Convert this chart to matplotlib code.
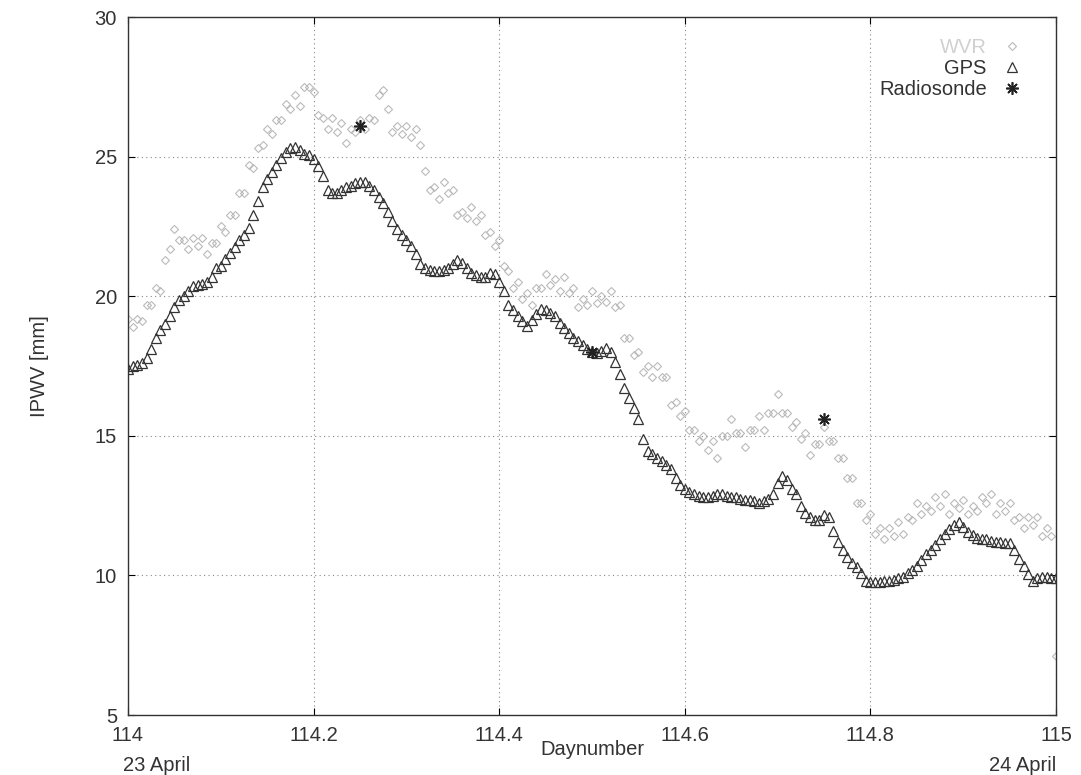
import numpy as np
import matplotlib
matplotlib.use('Agg')
import matplotlib.pyplot as plt

plt.rcParams['font.family'] = ['Liberation Sans', 'DejaVu Sans']

# tiempos de muestreo (dia del año), cada 0.005 dias
t_start = 114.0
t_step = 0.005
n_samples = 201

# WVR (radiometro), valores
wvr = [19.2, 18.9, 19.2, 19.1, 19.7, 19.7, 20.3, 20.2, 21.3, 21.7,
       22.4, 22.0, 22.0, 21.7, 22.1, 21.8, 22.1, 21.5, 21.9, 21.9,
       22.5, 22.3, 22.9, 22.9, 23.7, 23.7, 24.7, 24.6, 25.3, 25.4,
       26.0, 25.8, 26.3, 26.3, 26.9, 26.7, 27.2, 26.8, 27.5, 27.5,
       27.3, 26.5, 26.4, 26.0, 26.4, 25.9, 26.2, 25.5, 26.0, 25.9,
       26.3, 26.0, 26.4, 26.3, 27.2, 27.4, 26.7, 25.9, 26.1, 25.8,
       26.1, 25.7, 26.0, 25.4, 24.5, 23.8, 23.9, 23.5, 24.1, 23.7,
       23.8, 22.9, 23.0, 22.8, 23.2, 22.7, 22.9, 22.2, 22.3, 21.8,
       22.0, 21.1, 20.9, 20.3, 20.5, 19.9, 20.1, 19.7, 20.3, 20.3,
       20.8, 20.4, 20.6, 20.2, 20.7, 20.1, 20.3, 19.6, 19.9, 19.7,
       20.2, 19.75, 20.0, 19.8, 20.2, 19.6, 19.7, 18.5, 18.5, 17.9,
       18.0, 17.3, 17.5, 17.1, 17.5, 17.1, 17.1, 16.1, 16.2, 15.7,
       15.9, 15.2, 15.2, 14.8, 15.0, 14.5, 14.8, 14.2, 15.0, 15.0,
       15.6, 15.1, 15.1, 14.6, 15.2, 15.2, 15.7, 15.2, 15.8, 15.8,
       16.5, 15.8, 15.8, 15.3, 15.5, 14.9, 15.1, 14.3, 14.7, 14.7,
       15.3, 14.8, 14.8, 14.2, 14.2, 13.5, 13.5, 12.6, 12.6, 12.0,
       12.2, 11.5, 11.7, 11.3, 11.7, 11.4, 11.9, 11.5, 12.1, 12.0,
       12.6, 12.2, 12.5, 12.3, 12.8, 12.5, 12.9, 12.2, 12.6, 12.4,
       12.7, 12.2, 12.5, 12.3, 12.8, 12.6, 12.9, 12.2, 12.6, 12.3,
       12.6, 12.0, 12.1, 11.7, 12.1, 11.8, 12.1, 11.4, 11.7, 11.4,
       7.1]

# GPS
gps = [17.4, 17.5, 17.55, 17.6, 17.8, 18.1, 18.5, 18.8, 19.0, 19.3,
       19.6, 19.85, 20.0, 20.2, 20.35, 20.4, 20.45, 20.5, 20.7, 21.0,
       21.1, 21.35, 21.55, 21.75, 22.0, 22.2, 22.45, 22.9, 23.4, 23.9,
       24.2, 24.45, 24.7, 24.95, 25.15, 25.3, 25.35, 25.25, 25.1, 25.05,
       24.9, 24.65, 24.3, 23.8, 23.7, 23.7, 23.8, 23.9, 23.95, 24.05,
       24.1, 24.1, 23.95, 23.8, 23.55, 23.35, 23.0, 22.7, 22.4, 22.2,
       22.0, 21.8, 21.5, 21.15, 21.0, 20.95, 20.9, 20.9, 20.95, 21.0,
       21.15, 21.3, 21.2, 21.0, 20.85, 20.75, 20.7, 20.7, 20.85, 20.8,
       20.5, 20.2, 19.7, 19.5, 19.3, 19.1, 18.95, 19.15, 19.35, 19.55,
       19.5, 19.4, 19.3, 19.05, 18.85, 18.7, 18.5, 18.4, 18.25, 18.1,
       18.0, 17.95, 18.05, 18.15, 18.0, 17.65, 17.2, 16.7, 16.35, 16.0,
       15.6, 14.9, 14.45, 14.35, 14.2, 14.1, 13.95, 13.8, 13.5, 13.25,
       13.1, 13.0, 12.9, 12.85, 12.8, 12.8, 12.85, 12.9, 12.9, 12.85,
       12.8, 12.8, 12.75, 12.7, 12.7, 12.65, 12.6, 12.65, 12.75, 12.9,
       13.3, 13.55, 13.4, 13.1, 12.9, 12.5, 12.25, 12.1, 12.0, 12.0,
       12.15, 12.1, 11.6, 11.2, 10.9, 10.65, 10.45, 10.3, 10.1, 9.8,
       9.75, 9.75, 9.75, 9.8, 9.8, 9.85, 9.9, 9.95, 10.1, 10.2,
       10.35, 10.55, 10.75, 10.9, 11.1, 11.3, 11.5, 11.65, 11.8, 11.9,
       11.75, 11.55, 11.45, 11.35, 11.3, 11.3, 11.25, 11.2, 11.2, 11.15,
       11.15, 10.9, 10.6, 10.35, 10.05, 9.8, 9.9, 9.95, 9.95, 9.9,
       9.9]

# Radiosondeo
sonde_t = [114.25, 114.50, 114.75]
sonde = [26.1, 18.0, 15.6]

t = t_start + np.arange(n_samples) * t_step

fig = plt.figure(figsize=(10.81, 7.75), dpi=100)
ax = fig.add_axes([0.1184, 0.0774, 0.8585, 0.9006])

ax.plot(t, wvr, linestyle='none', marker='D', markersize=4.5, markerfacecolor='none',
        markeredgecolor='#bababa', markeredgewidth=0.8, label='WVR')
ax.plot(t, gps, linestyle='none', marker='^', markersize=7, markerfacecolor='none',
        markeredgecolor='#333333', markeredgewidth=0.9, label='GPS')
ax.plot(sonde_t, sonde, linestyle='none', marker=(8, 2, 0), markersize=9,
        color='#222222', markeredgewidth=1.2, label='Radiosonde')

ax.set_xlim(114, 115)
ax.set_ylim(5, 30)
ax.set_xticks([114, 114.2, 114.4, 114.6, 114.8, 115])
ax.set_xticklabels(['114', '114.2', '114.4', '114.6', '114.8', '115'])
ax.set_yticks([5, 10, 15, 20, 25, 30])
ax.tick_params(direction='in', top=True, right=True, length=5, width=0.8,
               labelsize=14.5, labelcolor='#333333', pad=8)
ax.grid(True, color='#888888', linestyle=(0, (1, 3)), linewidth=0.8)
for s in ax.spines.values():
    s.set_linewidth(1.0)
    s.set_color('#333333')

ax.set_xlabel('Daynumber', fontsize=14.5, color='#333333')
ax.xaxis.set_label_coords(0.5, -0.036)
ax.set_ylabel('IPWV [mm]', fontsize=14.5, color='#333333')
ax.yaxis.set_label_coords(-0.085, 0.5)

ax.text(-0.005, -0.072, '23 April', transform=ax.transAxes, ha='left', va='center',
        fontsize=14.5, color='#333333')
ax.text(1.0, -0.072, '24 April', transform=ax.transAxes, ha='right', va='center',
        fontsize=14.5, color='#333333')

leg = ax.legend(loc='upper right', bbox_to_anchor=(0.972, 0.981), markerfirst=False,
                frameon=False, handlelength=1.0, handletextpad=0.75, labelspacing=0.1,
                fontsize=14.5, borderaxespad=0, numpoints=1,
                labelcolor=['#d0d0d0', '#333333', '#333333'])

plt.savefig('out.png', dpi=100)
